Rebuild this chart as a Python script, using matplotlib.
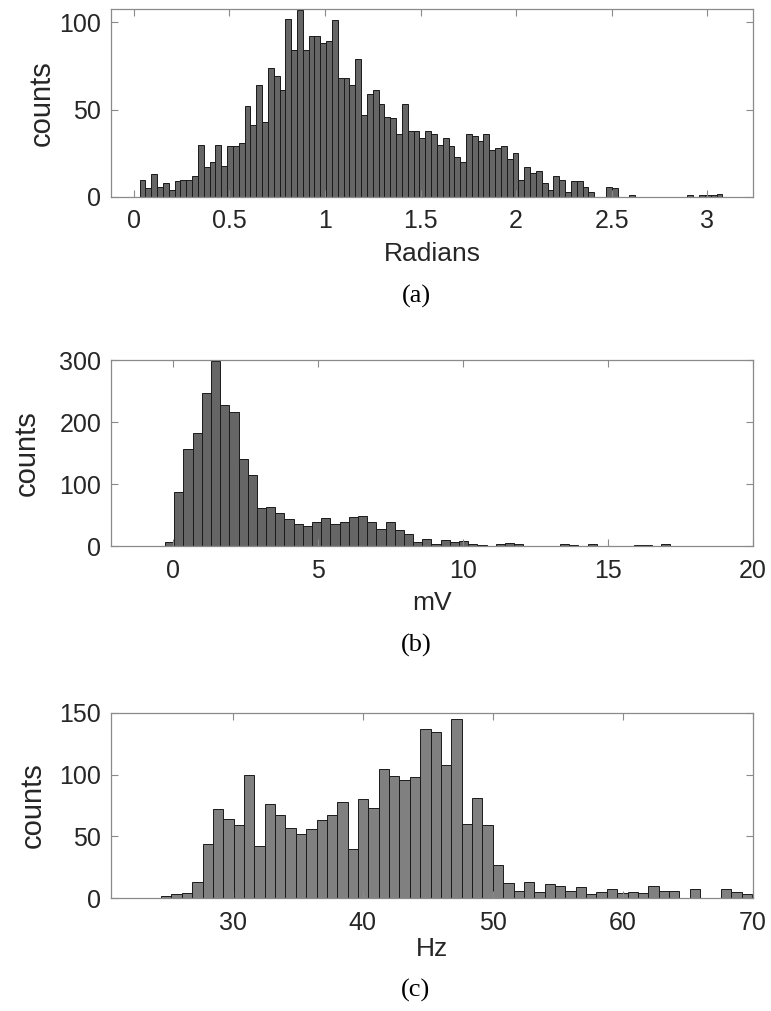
import numpy as np
import matplotlib
matplotlib.use("Agg")
import matplotlib.pyplot as plt

# ---------------- data ----------------
# (a) Radians histogram: 100 bins from 0.03 to 3.08
rad_start, rad_stop = 0.03, 3.08
rad_counts = [10, 5, 13, 6, 8, 4, 9, 10, 10, 12,
              30, 17, 20, 30, 18, 29, 29, 31, 52, 41,
              64, 43, 74, 69, 61, 102, 84, 107, 84, 92,
              92, 88, 89, 101, 68, 68, 64, 79, 47, 59,
              61, 53, 46, 45, 36, 53, 38, 38, 34, 38,
              36, 30, 34, 29, 23, 20, 36, 35, 32, 36,
              27, 28, 29, 22, 25, 10, 17, 14, 15, 8,
              4, 12, 10, 3, 9, 9, 6, 3, 0, 0,
              6, 5, 0, 0, 1, 0, 0, 0, 0, 0,
              0, 0, 0, 0, 1, 0, 1, 1, 1, 2]

# (b) mV histogram: 55 bins, width ~0.3168 starting at -0.276
mv_start, mv_width = -0.276, 0.3168
mv_counts = [7, 87, 156, 182, 246, 298, 228, 216, 140, 114,
             61, 63, 54, 43, 36, 33, 39, 45, 36, 39,
             47, 49, 39, 27, 38, 26, 19, 7, 12, 3,
             9, 7, 8, 4, 1, 0, 3, 5, 3, 0,
             0, 0, 0, 3, 1, 0, 3, 0, 0, 0,
             0, 1, 1, 0, 3]

# (c) Hz histogram: bins of width ~0.797 starting at 24.49
hz_start, hz_width = 24.49, 0.797
hz_counts = [2, 3, 4, 13, 44, 72, 64, 59, 100, 42,
             76, 67, 57, 52, 56, 63, 67, 78, 40, 80,
             73, 105, 99, 96, 98, 137, 135, 108, 145, 60,
             81, 59, 27, 12, 6, 13, 5, 11, 10, 6,
             9, 3, 5, 7, 4, 5, 4, 10, 6, 6,
             0, 7, 0, 0, 7, 5, 3]

rad_ticks = [0, 0.5, 1, 1.5, 2, 2.5, 3]
rad_ticklabels = ["0", "0.5", "1", "1.5", "2", "2.5", "3"]
mv_ticks = [0, 5, 10, 15, 20]
hz_ticks = [30, 40, 50, 60, 70]

# ---------------- style ----------------
plt.rcParams['font.family'] = ['Liberation Sans', 'DejaVu Sans']
W, H = 771, 1011
fig = plt.figure(figsize=(W / 100, H / 100), dpi=100)

def ax_rect(left, top, right, bottom):
    return [left / W, 1 - bottom / H, (right - left) / W, (bottom - top) / H]

tick_col = '#262626'
spine_col = '#8a8a8a'


def style(ax, ylabel_px):
    for s in ax.spines.values():
        s.set_color(spine_col)
        s.set_linewidth(0.9)
    ax.tick_params(direction='in', length=5, width=0.8, color=spine_col,
                   labelsize=18, labelcolor=tick_col,
                   top=True, right=True)
    ax.tick_params(axis='x', pad=9)
    ax.tick_params(axis='y', pad=7)
    ax.set_ylabel('counts', fontsize=21, color=tick_col)
    ax.yaxis.label.set_va('center')
    ax.yaxis.set_label_coords((ylabel_px - 111) / 642, 0.5)


def hist_bars(ax, edges, counts, color):
    edges = np.asarray(edges)
    ax.bar(edges[:-1], counts, width=np.diff(edges), align='edge',
           color=color, edgecolor='#1a1a1a', linewidth=0.7)

# (a)
ax1 = fig.add_axes(ax_rect(111, 9, 753, 197))
edges_a = np.linspace(rad_start, rad_stop, len(rad_counts) + 1)
hist_bars(ax1, edges_a, rad_counts, '#666666')
ax1.set_xlim(-0.12, 3.24)
ax1.set_ylim(0, 107.5)
ax1.set_xticks(rad_ticks)
ax1.set_xticklabels(rad_ticklabels)
ax1.set_yticks([0, 50, 100])
ax1.set_xlabel('Radians', fontsize=19, color=tick_col, labelpad=6)
style(ax1, 42)

# (b)
ax2 = fig.add_axes(ax_rect(111, 360, 753, 546))
edges_b = mv_start + mv_width * np.arange(len(mv_counts) + 1)
hist_bars(ax2, edges_b, mv_counts, '#666666')
ax2.set_xlim(-2.14, 20)
ax2.set_ylim(0, 300)
ax2.set_xticks(mv_ticks)
ax2.set_yticks([0, 100, 200, 300])
ax2.set_xlabel('mV', fontsize=19, color=tick_col, labelpad=6)
style(ax2, 27)

# (c)
ax3 = fig.add_axes(ax_rect(111, 713, 753, 898))
edges_c = hz_start + hz_width * np.arange(len(hz_counts) + 1)
hist_bars(ax3, edges_c, hz_counts, '#808080')
ax3.set_xlim(20.64, 69.9)
ax3.set_ylim(0, 150)
ax3.set_xticks(hz_ticks)
ax3.set_yticks([0, 50, 100, 150])
ax3.set_xlabel('Hz', fontsize=19, color=tick_col, labelpad=2)
style(ax3, 33)

# panel captions
for lab, yc in (('(a)', 296), ('(b)', 645), ('(c)', 990)):
    fig.text(416 / W, 1 - yc / H, lab, ha='center', va='center',
             fontsize=19, family=['Liberation Serif', 'DejaVu Serif'], color='black')

fig.savefig('out.png', dpi=100)
